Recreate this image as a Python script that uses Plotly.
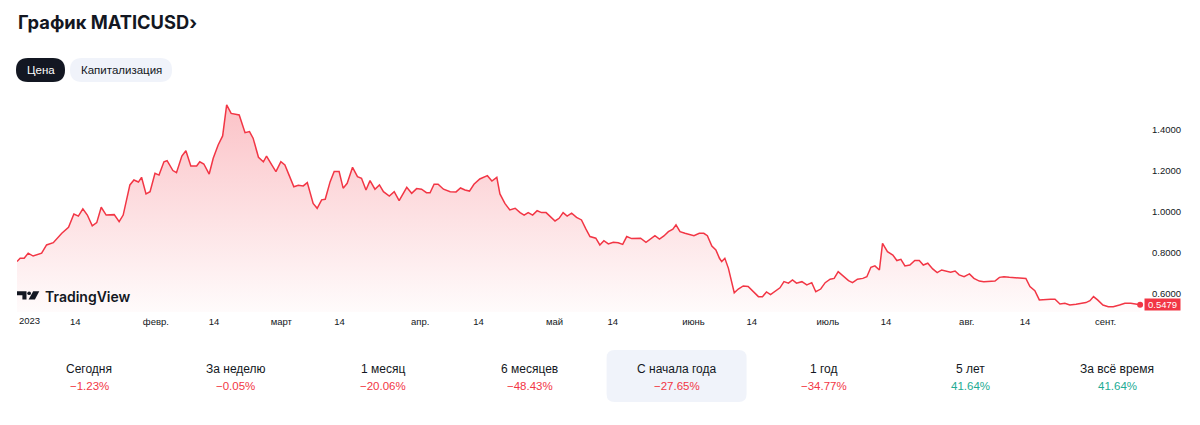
import pandas as pd
import plotly.graph_objects as go

# ---------------- data ----------------
start_date = "2023-01-01"
# time position of each reading, in days since 1 Jan 2023
day = [0.0, 0.7, 1.6, 2.5, 3.6, 5.5, 6.6, 8.1, 10.0, 11.5, 12.7, 13.7, 14.7, 15.7, 16.8, 17.8,
       18.8, 19.9, 21.7, 22.8, 23.7, 24.5, 25.2, 26.1, 27.1, 27.8, 28.8, 29.7, 30.8, 31.7, 32.8,
       33.5, 34.8, 35.6, 36.8, 37.7, 38.8, 40.1, 40.8, 41.7, 42.9, 43.8, 44.9, 45.9, 46.8, 47.8,
       48.7, 49.6, 50.9, 51.9, 52.7, 53.9, 55.0, 55.7, 56.9, 57.8, 58.9, 59.8, 60.8, 61.8, 62.8,
       63.9, 64.8, 65.4, 66.1, 67.0, 68.0, 68.8, 69.9, 70.8, 71.9, 72.8, 73.7, 74.9, 76.0, 76.9,
       77.9, 78.8, 79.9, 80.9, 81.8, 83.1, 84.2, 85.3, 87.0, 88.1, 89.2, 90.3, 91.4, 92.2, 93.1,
       94.0, 95.2, 96.7, 98.0, 99.0, 100.0, 101.0, 102.0, 103.3, 105.0, 106.0, 107.1, 107.8,
       108.9, 110.0, 111.2, 112.3, 113.2, 114.1, 115.1, 116.1, 117.1, 118.1, 119.0, 120.1, 121.0,
       121.9, 122.8, 123.8, 124.9, 126.0, 127.0, 127.9, 129.2, 130.1, 131.0, 132.0, 133.1, 134.2,
       135.2, 136.1, 137.2, 138.3, 139.2, 140.4, 141.4, 142.4, 143.4, 144.4, 145.4, 146.4, 147.1,
       148.0, 149.1, 150.2, 151.1, 152.3, 153.3, 154.1, 155.1, 156.0, 156.8, 157.3, 158.0, 158.8,
       159.4, 160.1, 161.0, 162.1, 163.2, 164.4, 165.5, 166.4, 167.3, 168.2, 169.4, 170.3, 171.2,
       172.2, 173.1, 174.0, 175.2, 176.3, 177.4, 178.3, 179.4, 180.4, 181.5, 182.4, 183.3, 184.3,
       185.6, 186.5, 187.6, 188.8, 189.7, 190.6, 191.5, 192.5, 193.2, 194.3, 195.5, 196.4, 197.3,
       198.2, 199.3, 200.4, 201.4, 202.3, 203.3, 204.4, 205.4, 206.4, 207.5, 208.4, 209.4, 210.3,
       211.4, 212.6, 213.6, 214.8, 215.8, 217.0, 218.3, 219.3, 220.3, 221.5, 222.8, 223.9, 225.2,
       226.1, 227.2, 228.2, 229.5, 230.7, 231.7, 232.8, 233.9, 235.0, 236.4, 237.6, 238.6, 239.5,
       240.3, 241.2, 242.4, 243.6, 244.7, 246.1, 247.3, 248.6, 249.8, 250.7]
price = [0.758, 0.774, 0.774, 0.799, 0.785, 0.799, 0.839, 0.850, 0.896, 0.925, 0.990, 0.980, 1.015,
         0.985, 0.932, 0.948, 1.023, 0.985, 0.987, 0.953, 0.985, 1.059, 1.132, 1.156, 1.146, 1.169,
         1.088, 1.099, 1.189, 1.180, 1.245, 1.250, 1.202, 1.192, 1.273, 1.299, 1.224, 1.224, 1.245,
         1.234, 1.185, 1.262, 1.327, 1.371, 1.522, 1.481, 1.478, 1.473, 1.387, 1.392, 1.360, 1.267,
         1.245, 1.273, 1.229, 1.197, 1.245, 1.229, 1.176, 1.123, 1.130, 1.127, 1.143, 1.091, 1.042,
         1.018, 1.059, 1.062, 1.148, 1.197, 1.197, 1.116, 1.140, 1.218, 1.172, 1.164, 1.107, 1.153,
         1.111, 1.132, 1.099, 1.078, 1.099, 1.055, 1.120, 1.091, 1.114, 1.111, 1.094, 1.094, 1.135,
         1.135, 1.111, 1.099, 1.098, 1.117, 1.107, 1.102, 1.135, 1.161, 1.177, 1.151, 1.169, 1.088,
         1.042, 1.010, 1.018, 0.997, 0.985, 0.997, 0.985, 1.006, 0.997, 0.997, 0.980, 0.956, 0.969,
         0.997, 0.980, 0.994, 0.974, 0.961, 0.916, 0.880, 0.872, 0.839, 0.860, 0.844, 0.852, 0.850,
         0.842, 0.880, 0.870, 0.870, 0.872, 0.852, 0.867, 0.884, 0.868, 0.883, 0.904, 0.916, 0.937,
         0.904, 0.896, 0.888, 0.884, 0.896, 0.896, 0.884, 0.834, 0.815, 0.774, 0.758, 0.774, 0.725,
         0.668, 0.606, 0.624, 0.639, 0.636, 0.611, 0.587, 0.587, 0.610, 0.597, 0.615, 0.630, 0.660,
         0.653, 0.668, 0.653, 0.660, 0.644, 0.655, 0.611, 0.624, 0.655, 0.672, 0.676, 0.709, 0.689,
         0.665, 0.655, 0.672, 0.676, 0.684, 0.730, 0.737, 0.717, 0.847, 0.806, 0.790, 0.763, 0.769,
         0.737, 0.741, 0.763, 0.763, 0.741, 0.750, 0.722, 0.704, 0.717, 0.712, 0.706, 0.712, 0.693,
         0.684, 0.698, 0.676, 0.663, 0.660, 0.663, 0.663, 0.681, 0.684, 0.681, 0.680, 0.676, 0.676,
         0.636, 0.616, 0.571, 0.574, 0.574, 0.574, 0.551, 0.555, 0.546, 0.550, 0.555, 0.558, 0.567,
         0.587, 0.571, 0.546, 0.538, 0.538, 0.546, 0.555, 0.555, 0.550, 0.5479]

y_ticks = [0.6, 0.8, 1.0, 1.2, 1.4]
x_tick_dates = ["2023-01-14", "2023-02-01", "2023-02-14", "2023-03-01", "2023-03-14",
                "2023-04-01", "2023-04-14", "2023-05-01", "2023-05-14", "2023-06-01",
                "2023-06-14", "2023-07-01", "2023-07-14", "2023-08-01", "2023-08-14",
                "2023-09-01"]
x_tick_text = ["14", "февр.", "14", "март", "14", "апр.", "14", "май", "14", "июнь",
               "14", "июль", "14", "авг.", "14", "сент."]
year_label = "2023"

periods = ["Сегодня", "За неделю", "1 месяц", "6 месяцев", "С начала года", "1 год", "5 лет",
           "За всё время"]
changes = [-1.23, -0.05, -20.06, -48.43, -27.65, -34.77, 41.64, 41.64]
selected_period = 4

title_text = "График MATICUSD›"
buttons = ["Цена", "Капитализация"]

# ---------------- layout helpers ----------------
W, H = 1200, 425
RED = "#f23645"
GREEN = "#22ab94"
DARK = "#131722"
LIGHT = "#f0f3fa"


def X(px):
    return px / W


def Y(py):
    return 1 - py / H


def rrect(x0, y0, x1, y1, r):
    return (f"M {X(x0 + r)},{Y(y0)} L {X(x1 - r)},{Y(y0)} Q {X(x1)},{Y(y0)} {X(x1)},{Y(y0 + r)} "
            f"L {X(x1)},{Y(y1 - r)} Q {X(x1)},{Y(y1)} {X(x1 - r)},{Y(y1)} "
            f"L {X(x0 + r)},{Y(y1)} Q {X(x0)},{Y(y1)} {X(x0)},{Y(y1 - r)} "
            f"L {X(x0)},{Y(y0 + r)} Q {X(x0)},{Y(y0)} {X(x0 + r)},{Y(y0)} Z")


def poly(points):
    return "M " + " L ".join(f"{X(a)},{Y(b)}" for a, b in points) + " Z"


t0 = pd.Timestamp(start_date)
dates = t0 + pd.to_timedelta(day, unit="D")
x_end = t0 + pd.to_timedelta(251.34, unit="D")

y_lo, y_hi = 0.512, 1.595

fig = go.Figure()
fig.add_trace(go.Scatter(
    x=dates, y=price, mode="lines",
    line=dict(color=RED, width=1.5),
    fill="tozeroy",
    fillgradient=dict(type="vertical",
                      colorscale=[[0, "rgba(242,54,69,0.02)"], [1, "rgba(242,54,69,0.30)"]],
                      start=y_lo, stop=1.52),
    hoverinfo="skip", showlegend=False,
))
fig.add_trace(go.Scatter(
    x=[dates[-1]], y=[price[-1]], mode="markers",
    marker=dict(color=RED, size=6), cliponaxis=False,
    hoverinfo="skip", showlegend=False,
))

axis_font = dict(family="Liberation Sans, Arial, sans-serif", size=9.5, color=DARK)

fig.update_layout(
    width=W, height=H, autosize=False,
    margin=dict(l=0, r=0, t=0, b=0),
    paper_bgcolor="white", plot_bgcolor="white",
    xaxis=dict(type="date", domain=[X(17), X(1143)], range=[t0, x_end],
               tickvals=x_tick_dates, ticktext=x_tick_text, tickfont=axis_font,
               showgrid=False, zeroline=False, showline=False, ticks="",
               ticklabelstandoff=2, fixedrange=True),
    yaxis=dict(domain=[Y(312), Y(90)], range=[y_lo, y_hi], side="right",
               tickvals=y_ticks, tickformat=".4f", tickfont=axis_font,
               showgrid=False, zeroline=False, showline=False, ticks="",
               ticklabelstandoff=8, fixedrange=True),
)

shapes = []
ann = []

# title
ann.append(dict(x=X(16), y=Y(22), xref="paper", yref="paper", xanchor="left", yanchor="middle",
                text=title_text, showarrow=False,
                font=dict(family="Inter, Open Sans, sans-serif", size=18.3, color=DARK, weight=700)))

# pill buttons
btn_boxes = [(16, 58, 65, 82), (70, 58, 172, 82)]
for i, (label, (bx0, by0, bx1, by1)) in enumerate(zip(buttons, btn_boxes)):
    active = i == 0
    shapes.append(dict(type="path", xref="paper", yref="paper", path=rrect(bx0, by0, bx1, by1, 12),
                       fillcolor=DARK if active else LIGHT, line=dict(width=0), layer="above"))
    ann.append(dict(x=X((bx0 + bx1) / 2), y=Y((by0 + by1) / 2), xref="paper", yref="paper",
                    xanchor="center", yanchor="middle", text=label, showarrow=False,
                    font=dict(family="Liberation Sans, Arial, sans-serif", size=11.5,
                              color="white" if active else DARK)))

# TradingView watermark
shapes.append(dict(type="path", xref="paper", yref="paper",
                   path=poly([(17, 291.3), (26.5, 291.3), (26.5, 299.5), (22.4, 299.5), (22.4, 295.2), (17, 295.2)]),
                   fillcolor=DARK, line=dict(width=0), layer="above"))
shapes.append(dict(type="circle", xref="paper", yref="paper",
                   x0=X(27.3), x1=X(31.0), y0=Y(291.4), y1=Y(295.1),
                   fillcolor=DARK, line=dict(width=0), layer="above"))
shapes.append(dict(type="path", xref="paper", yref="paper",
                   path=poly([(33.2, 291.3), (39.3, 291.3), (34.9, 299.5), (28.6, 299.5)]),
                   fillcolor=DARK, line=dict(width=0), layer="above"))
ann.append(dict(x=X(43), y=Y(296), xref="paper", yref="paper", xanchor="left", yanchor="middle",
                text="TradingView", showarrow=False,
                font=dict(family="Inter, sans-serif", size=14, color=DARK, weight=600)))

# year label at the start of the time axis
ann.append(dict(x=t0, y=Y(320), xref="x", yref="paper", xanchor="left", yanchor="middle",
                text=year_label, showarrow=False, font=axis_font))

# last price label
ann.append(dict(x=X(1162), y=price[-1], xref="paper", yref="y", xanchor="center", yanchor="middle",
                text=f"{price[-1]:.4f}", showarrow=False, bgcolor=RED, width=35, height=11,
                borderpad=0, font=dict(family="Liberation Sans, Arial, sans-serif", size=9.5,
                                       color="white")))

# performance row
col0, step = 89.0, 146.9
shapes.append(dict(type="path", xref="paper", yref="paper",
                   path=rrect(col0 + selected_period * step - 70, 350, col0 + selected_period * step + 70, 402, 8),
                   fillcolor=LIGHT, line=dict(width=0), layer="below"))
for i, (name, chg) in enumerate(zip(periods, changes)):
    cx = col0 + i * step
    txt = (f"\u2212{abs(chg):.2f}%" if chg < 0 else f"{chg:.2f}%")
    ann.append(dict(x=X(cx), y=Y(369), xref="paper", yref="paper", xanchor="center",
                    yanchor="middle", text=name, showarrow=False,
                    font=dict(family="Liberation Sans, Arial, sans-serif", size=12, color=DARK)))
    ann.append(dict(x=X(cx), y=Y(385.5), xref="paper", yref="paper", xanchor="center",
                    yanchor="middle", text=txt, showarrow=False,
                    font=dict(family="Liberation Sans, Arial, sans-serif", size=11.5,
                              color=RED if chg < 0 else GREEN)))

fig.update_layout(shapes=shapes, annotations=ann)
fig.write_html("out.html")
